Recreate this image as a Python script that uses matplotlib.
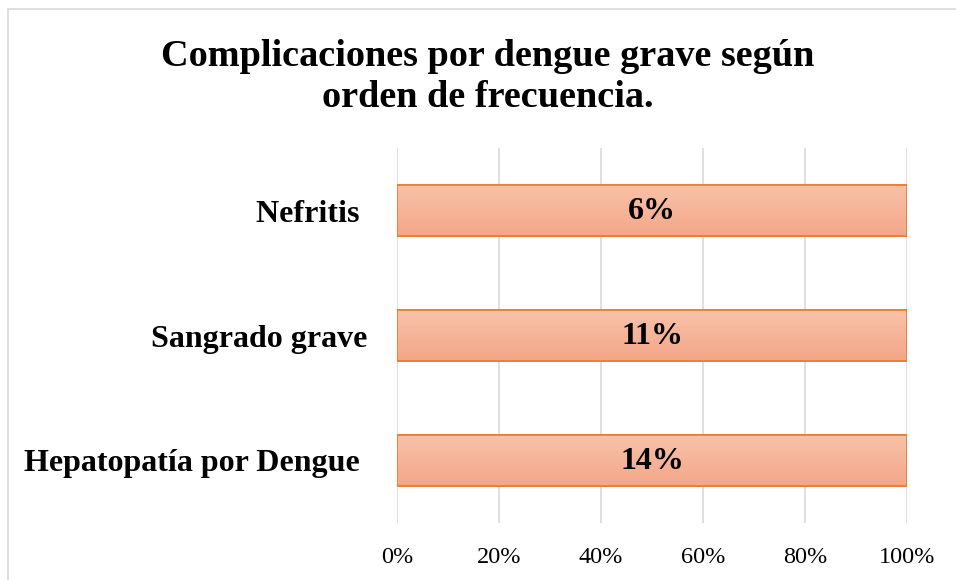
import matplotlib
matplotlib.use("Agg")
import matplotlib.pyplot as plt
import numpy as np
from matplotlib.colors import LinearSegmentedColormap
from matplotlib.patches import Rectangle

categories = ["Hepatopatía por Dengue ", "Sangrado grave", "Nefritis "]
values = [14, 11, 6]
value_labels = ["14%", "11%", "6%"]
xticks = [0, 20, 40, 60, 80, 100]
xtick_labels = ["0%", "20%", "40%", "60%", "80%", "100%"]
title = "Complicaciones por dengue grave según\norden de frecuencia."

plt.rcParams['font.family'] = ['Liberation Serif', 'DejaVu Serif']

fig = plt.figure(figsize=(9.56, 5.8), dpi=100)
fig.patches.append(Rectangle((8/956, -0.1), 1.2, 1 - 9/580 + 0.1, transform=fig.transFigure,
                             fill=False, edgecolor='#D9D9D9', linewidth=1.2))
ax = fig.add_axes([397/956, 1 - 523/580, 510/956, 375/580])

shares = [v / v * 100 for v in values]  # 100% stacked single series
y = np.arange(len(categories))
bars = ax.barh(y, shares, height=0.41, color='#F5B497', edgecolor='#ED7D31', linewidth=1.3, zorder=3)

cmap = LinearSegmentedColormap.from_list('g', ['#F7C3AA', '#F4A688'])
grad = np.linspace(0, 1, 100).reshape(-1, 1)
for b in bars:
    x0, y0 = b.get_x(), b.get_y()
    w, h = b.get_width(), b.get_height()
    im = ax.imshow(grad, cmap=cmap, aspect='auto', extent=(x0, x0 + w, y0, y0 + h),
                   origin='upper', zorder=3.5)
    im.set_clip_path(b)
    edge = Rectangle((x0, y0), w, h, fill=False, edgecolor='#ED7D31', linewidth=1.3, zorder=4)
    ax.add_patch(edge)

for yi, s, lab in zip(y, shares, value_labels):
    ax.text(s / 2, yi - 0.01, lab, ha='center', va='center', fontsize=23, fontweight='bold', zorder=5)

ax.set_xlim(0, 100)
ax.set_ylim(-0.5, len(categories) - 0.5)
ax.set_xticks(xticks)
ax.set_xticklabels(xtick_labels, fontsize=17.5)
ax.set_yticks(y)
ax.set_yticklabels(categories, fontsize=23, fontweight='bold')
ax.tick_params(axis='both', length=0)
ax.tick_params(axis='x', pad=17)
ax.tick_params(axis='y', pad=21)
ax.grid(axis='x', color='#D9D9D9', linewidth=1.2, zorder=0)
ax.set_axisbelow(True)
for sp in ax.spines.values():
    sp.set_visible(False)

fig.text(488/956, 1 - 77/580, title, ha='center', va='center', fontsize=27.5,
         fontweight='bold', linespacing=1.25)

fig.savefig('out.png', dpi=100)
